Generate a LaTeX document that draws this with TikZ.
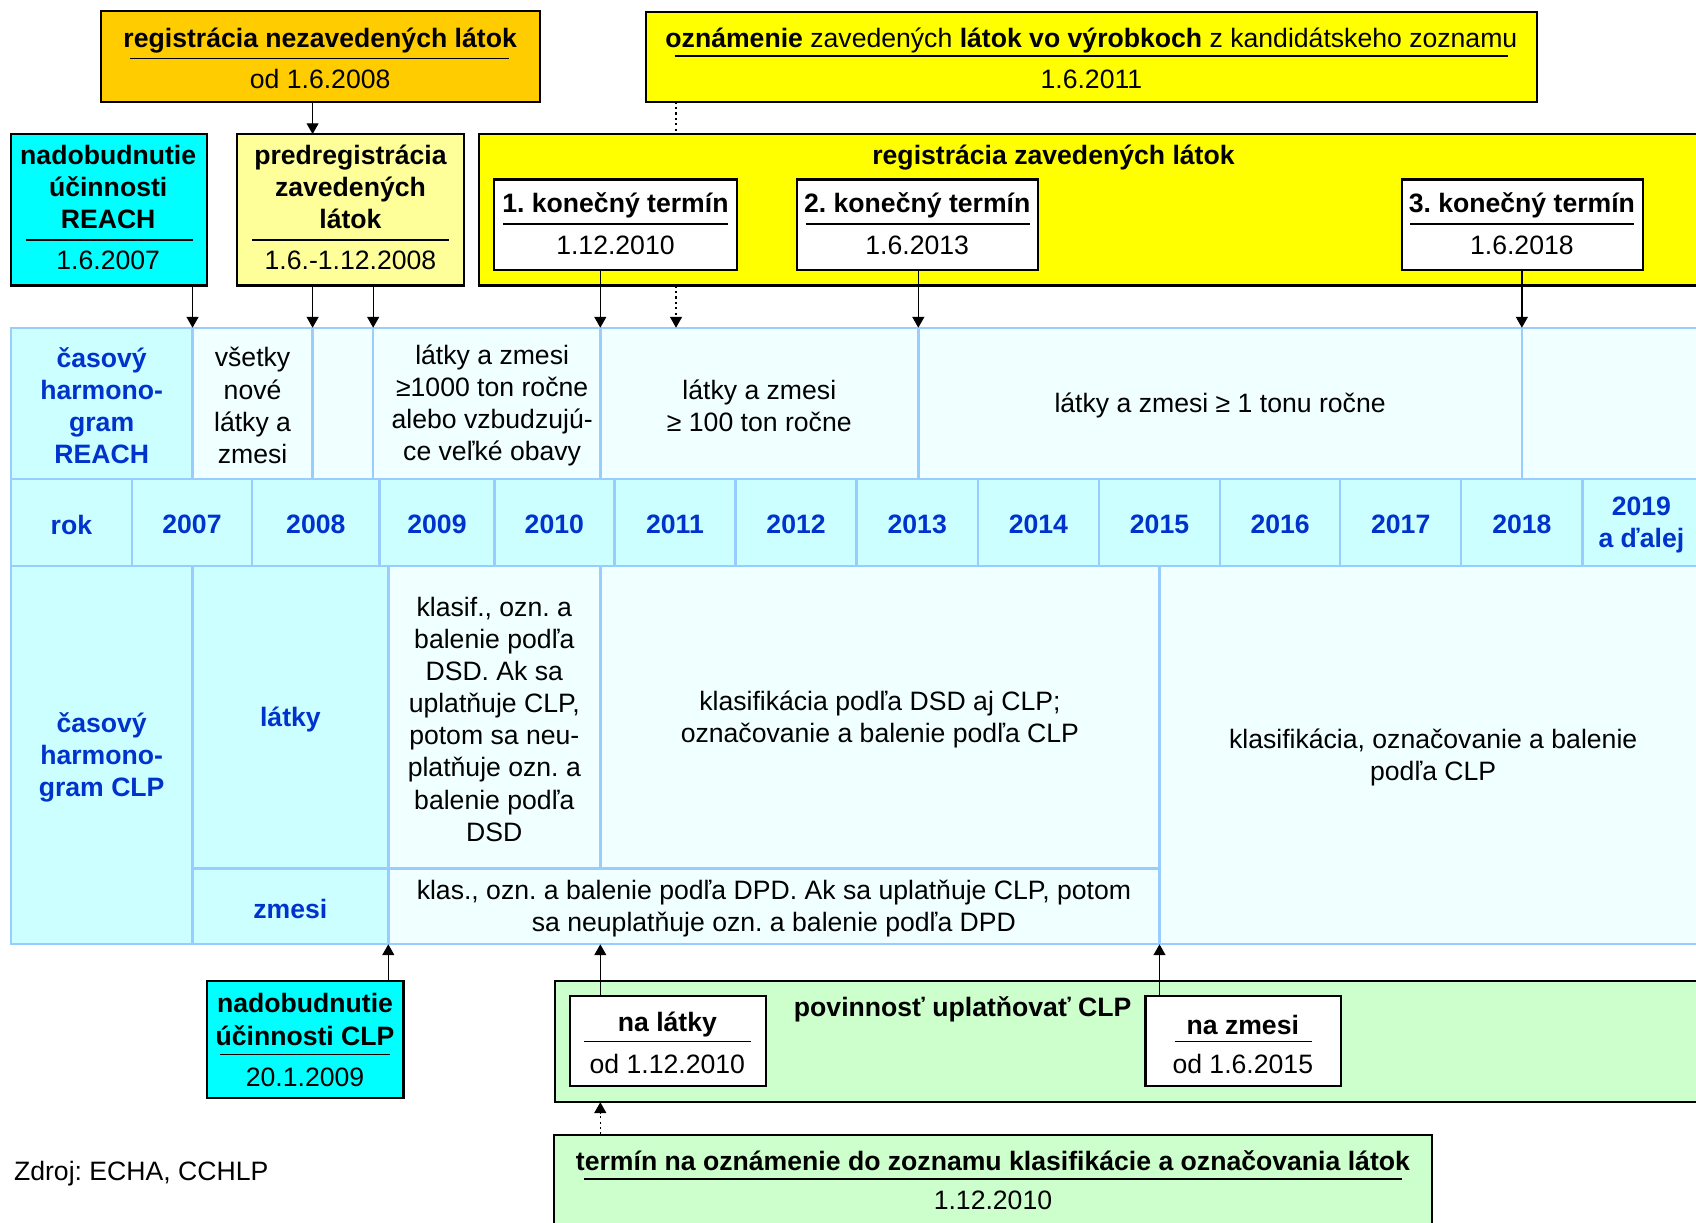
\documentclass[tikz,border=0pt]{standalone}
\usepackage{fontspec}
\setmainfont{Liberation Sans}
\frenchspacing
\usetikzlibrary{fit,arrows.meta}
\definecolor{orangeY}{HTML}{FFCC00}
\definecolor{yel}{HTML}{FFFF00}
\definecolor{cyanB}{HTML}{00FFFF}
\definecolor{lyel}{HTML}{FFFF99}
\definecolor{lcyan}{HTML}{CCFFFF}
\definecolor{vlcyan}{HTML}{F0FFFF}
\definecolor{lgreen}{HTML}{CCFFCC}
\definecolor{tblue}{HTML}{0033CC}
\definecolor{gridc}{HTML}{99CCFF}
\begin{document}
\begin{tikzpicture}[x=0.5pt,y=-0.5pt,
  every node/.style={font=\fontsize{12.3}{14.85}\selectfont, inner sep=0pt, outer sep=0pt},
  bbox/.style={draw=black, line width=1pt, inner sep=0pt},
  cellbox/.style={draw=gridc, line width=1.1pt, inner sep=0pt, fill=vlcyan},
  hdrcell/.style={cellbox, fill=lcyan},
  celltxt/.style={align=center, yshift=-1pt},
  hdrtxt/.style={align=center, yshift=-1pt, text=tblue, font=\fontsize{12.3}{14.85}\selectfont\bfseries},
  lbl/.style={align=center},
  ttl/.style={align=center, font=\fontsize{12.3}{14.85}\selectfont\bfseries},
  uline/.style={line width=0.8pt},
  arr/.style={line width=0.6pt, -{Triangle[length=5pt,width=5.5pt]}},
  dline/.style={line width=0.6pt, dash pattern=on 1pt off 1.5pt},
  darr/.style={arr, dash pattern=on 1pt off 1.5pt}
]
\useasboundingbox (0,0) rectangle (1568,1130);

% ---------- top boxes ----------
\node[bbox, fill=orangeY, fit={(93,10) (499,94)}] (orange) {};
\node[ttl] (orangeT) at (296,37.5) {registrácia nezavedených látok};
\draw[uline] (120,54) -- (471,54);
\node[lbl] (orangeD) at (296,73) {od 1.6.2008};

\node[bbox, fill=yel, fit={(597,11) (1421,94)}] (ozn) {};
\node[lbl] (oznT) at (1009,37.5) {\textbf{oznámenie} zavedených \textbf{látok vo výrobkoch} z kandidátskeho zoznamu};
\draw[uline] (624,52) -- (1394,52);
\node[lbl] (oznD) at (1009,73) {1.6.2011};

\node[bbox, fill=cyanB, fit={(10,124) (191,264)}] (reach) {};
\node[ttl] (reachT) at (100,173) {nadobudnutie\\účinnosti\\REACH};
\draw[uline] (24,222) -- (178,222);
\node[lbl] (reachD) at (100,241) {1.6.2007};

\node[bbox, fill=lyel, fit={(219,124) (429,264)}] (pred) {};
\node[ttl] (predT) at (324,173) {predregistrácia\\zavedených\\látok};
\draw[uline] (233,222) -- (415,222);
\node[lbl] (predD) at (324,241) {1.6.-1.12.2008};

\node[bbox, fill=yel, fit={(443,124) (1580,264)}] (regz) {};
\node[ttl] (regzT) at (974,145.5) {registrácia zavedených látok};

\node[bbox, fill=white, fit={(457,166) (681,250)}] (t1) {};
\node[ttl] (t1T) at (569,189.5) {1. konečný termín};
\draw[uline] (465,207) -- (673,207);
\node[lbl] (t1D) at (569,227) {1.12.2010};

\node[bbox, fill=white, fit={(737,166) (960,250)}] (t2) {};
\node[ttl] (t2T) at (848,189.5) {2. konečný termín};
\draw[uline] (745,207) -- (952,207);
\node[lbl] (t2D) at (848,227) {1.6.2013};

\node[bbox, fill=white, fit={(1296,166) (1519,250)}] (t3) {};
\node[ttl] (t3T) at (1407,189.5) {3. konečný termín};
\draw[uline] (1304,207) -- (1511,207);
\node[lbl] (t3D) at (1407,227) {1.6.2018};

% ---------- REACH row ----------
\node[hdrcell, fit={(10,303) (178,443)}] (hdrR) {};
\node[hdrtxt] (hdrRT) at (hdrR.center) {časový\\harmono-\\gram\\REACH};
\node[cellbox, fit={(178,303) (289,443)}] (vsetky) {};
\node[celltxt] (vsetkyT) at (vsetky.center) {všetky\\nové\\látky a\\zmesi};
\node[cellbox, fit={(289,303) (345,443)}] (e2008) {};
\node[cellbox, fit={(345,303) (555,443)}] (c1000) {};
\node[celltxt, xshift=2.5pt] (c1000T) at (c1000.center) {látky a zmesi\\≥1000 ton ročne\\alebo vzbudzujú-\\ce veľké obavy};
\node[cellbox, fit={(555,303) (849,443)}] (c100) {};
\node[celltxt] (c100T) at (c100.center) {látky a zmesi\\≥ 100 ton ročne};
\node[cellbox, fit={(849,303) (1407,443)}] (c1ton) {};
\node[celltxt] (c1tonT) at (c1ton.center) {látky a zmesi ≥ 1 tonu ročne};
\node[cellbox, fit={(1407,303) (1580,443)}] (clast) {};

% ---------- year row ----------
\foreach \a/\b/\t/\n in {10/122/rok/rok, 122/233/2007/y07, 233/351/2008/y08, 351/457/2009/y09,
   457/568/2010/y10, 568/680/2011/y11, 680/792/2012/y12, 792/904/2013/y13, 904/1016/2014/y14,
   1016/1128/2015/y15, 1128/1239/2016/y16, 1239/1351/2017/y17, 1351/1463/2018/y18}
  {\node[hdrcell, fit={(\a,443) (\b,523)}] (\n) {};
   \node[hdrtxt] (\n T) at (\n.center) {\t};}
\node[hdrcell, fit={(1463,443) (1572,523)}] (y19) {};
\node[hdrtxt] (y19T) at (y19.center) {2019\\a ďalej};

% ---------- CLP rows ----------
\node[hdrcell, fit={(10,523) (178,873)}] (hdrC) {};
\node[hdrtxt] (hdrCT) at (hdrC.center) {časový\\harmono-\\gram CLP};
\node[hdrcell, fit={(178,523) (359,803)}] (latky) {};
\node[hdrtxt] (latkyT) at (latky.center) {látky};
\node[hdrcell, fit={(178,803) (359,873)}] (zmesi) {};
\node[hdrtxt] (zmesiT) at (zmesi.center) {zmesi};
\node[cellbox, fit={(359,523) (555,803)}] (dsd) {};
\node[celltxt] (dsdT) at (dsd.center) {klasif., ozn. a\\balenie podľa\\DSD. Ak sa\\uplatňuje CLP,\\potom sa neu-\\platňuje ozn. a\\balenie podľa\\DSD};
\node[cellbox, fit={(555,523) (1072,803)}] (dsdclp) {};
\node[celltxt] (dsdclpT) at (dsdclp.center) {klasifikácia podľa DSD aj CLP;\\označovanie a balenie podľa CLP};
\node[cellbox, fit={(359,803) (1072,873)}] (dpd) {};
\node[celltxt] (dpdT) at (dpd.center) {klas., ozn. a balenie podľa DPD. Ak sa uplatňuje CLP, potom\\sa neuplatňuje ozn. a balenie podľa DPD};
\node[cellbox, fit={(1072,523) (1578,873)}] (clpfin) {};
\node[celltxt] (clpfinT) at (clpfin.center) {klasifikácia, označovanie a balenie\\podľa CLP};

% ---------- bottom boxes ----------
\node[bbox, fill=cyanB, fit={(191,907) (373,1015)}] (clp) {};
\node[ttl] (clpT) at (282,942.5) {nadobudnutie\\účinnosti CLP};
\draw[uline] (203,975) -- (361,975);
\node[lbl] (clpD) at (282,996) {20.1.2009};

\node[bbox, fill=lgreen, fit={(513,907) (1580,1019)}] (pov) {};
\node[ttl] (povT) at (890,933.5) {povinnosť uplatňovať CLP};

\node[bbox, fill=white, fit={(527,921) (708,1004)}] (nalatky) {};
\node[ttl] (nalatkyT) at (617,947.5) {na látky};
\draw[uline] (540,963) -- (694,963);
\node[lbl] (nalatkyD) at (617,984) {od 1.12.2010};

\node[bbox, fill=white, fit={(1059,921) (1240,1004)}] (nazmesi) {};
\node[ttl] (nazmesiT) at (1149,947.5) {na zmesi};
\draw[uline] (1086,963) -- (1213,963);
\node[lbl] (nazmesiD) at (1149,984) {od 1.6.2015};

\node[bbox, fill=lgreen, fit={(512,1049) (1324,1145)}] (termin) {};
\node[ttl] (terminT) at (918,1073.5) {termín na oznámenie do zoznamu klasifikácie a označovania látok};
\draw[uline] (540,1090) -- (1296,1090);
\node[lbl] (terminD) at (918,1110) {1.12.2010};

\node[anchor=west] (zdroj) at (13,1085) {Zdroj: ECHA, CCHLP};

% ---------- connectors ----------
\coordinate (dotTop) at (625,303);
\draw[arr] (reach.south -| vsetky.north west) -- (vsetky.north west);
\draw[arr] (orange.south -| e2008.north west) -- (pred.north -| e2008.north west);
\draw[arr] (pred.south -| e2008.north west) -- (e2008.north west);
\draw[arr] (pred.south -| c1000.north west) -- (c1000.north west);
\draw[arr] (t1.south -| c100.north west) -- (c100.north west);
\draw[dline] (ozn.south -| dotTop) -- (regz.north -| dotTop);
\draw[darr] (regz.south -| dotTop) -- (dotTop);
\draw[arr] (t2.south -| c1ton.north west) -- (c1ton.north west);
\draw[arr] (t3.south -| clast.north west) -- (clast.north west);
\draw[arr] (clp.north -| dpd.south west) -- (dpd.south west);
\draw[arr] (nalatky.north -| dsdclp.west) -- (dpd.south -| dsdclp.west);
\draw[arr] (nazmesi.north -| clpfin.south west) -- (clpfin.south west);
\draw[darr] (termin.north -| dsdclp.west) -- (pov.south -| dsdclp.west);
\end{tikzpicture}
\end{document}
